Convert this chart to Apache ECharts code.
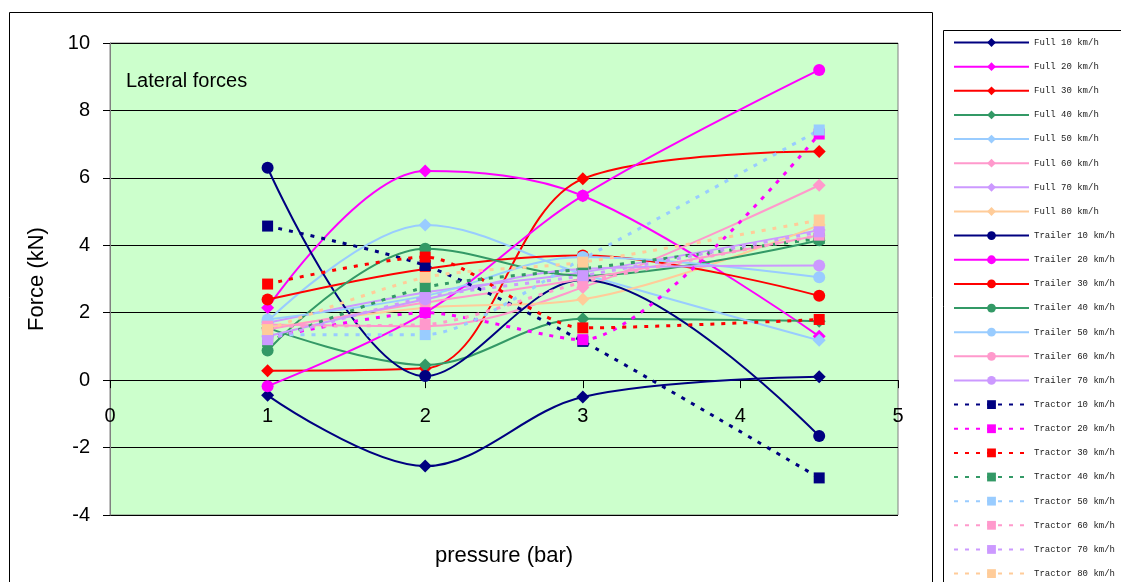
<!DOCTYPE html>
<html><head><meta charset="utf-8">
<script src="https://cdn.jsdelivr.net/npm/echarts@6/dist/echarts.min.js"></script>
<style>html,body{margin:0;padding:0;background:#fff}#c{width:1121px;height:582px}</style>
</head><body><div id="c"></div>
<script>
// x positions (pressure, bar)
const xValues = [1, 2, 3, 4.5];
const yTicks = [-4, -2, 0, 2, 4, 6, 8, 10];
const xTicks = [0, 1, 2, 3, 4, 5];

// Full
const full10 = [-0.45, -2.55, -0.5, 0.1];
const full20 = [2.15, 6.2, 5.47, 1.3];
const full30 = [0.28, 0.35, 5.97, 6.78];
const full40 = [1.55, 0.45, 1.82, 1.75];
const full50 = [1.75, 4.6, 3.15, 1.18];
const full60 = [1.65, 1.6, 2.75, 5.78];
const full70 = [1.7, 2.6, 3.2, 4.45];
const full80 = [1.55, 2.15, 2.4, 4.6];
// Trailer
const trailer10 = [6.3, 0.12, 2.97, -1.66];
const trailer20 = [-0.18, 2.0, 5.47, 9.2];
const trailer30 = [2.39, 3.3, 3.7, 2.5];
const trailer40 = [0.88, 3.9, 3.1, 4.15];
const trailer50 = [1.8, 2.5, 3.65, 3.05];
const trailer60 = [1.5, 2.3, 3.0, 4.3];
const trailer70 = [1.3, 2.4, 3.3, 3.4];
// Tractor
const tractor10 = [4.57, 3.4, 1.15, -2.9];
const tractor20 = [1.25, 2.0, 1.2, 7.3];
const tractor30 = [2.85, 3.65, 1.55, 1.8];
const tractor40 = [1.15, 2.75, 3.3, 4.2];
const tractor50 = [1.35, 1.35, 3.6, 7.42];
const tractor60 = [1.6, 1.65, 2.9, 4.3];
const tractor70 = [1.2, 2.45, 3.1, 4.4];
const tractor80 = [1.5, 3.05, 3.5, 4.75];

const C = {navy:'#000080', mag:'#FF00FF', red:'#FF0000', green:'#339966', lblue:'#99CCFF', pink:'#FF99CC', lav:'#CC99FF', peach:'#FFCC99'};

const seriesDefs = [
  ['Full 10 km/h', full10, C.navy, 'full'],
  ['Full 20 km/h', full20, C.mag, 'full'],
  ['Full 30 km/h', full30, C.red, 'full'],
  ['Full 40 km/h', full40, C.green, 'full'],
  ['Full 50 km/h', full50, C.lblue, 'full'],
  ['Full 60 km/h', full60, C.pink, 'full'],
  ['Full 70 km/h', full70, C.lav, 'full'],
  ['Full 80 km/h', full80, C.peach, 'full'],
  ['Trailer 10 km/h', trailer10, C.navy, 'trailer'],
  ['Trailer 20 km/h', trailer20, C.mag, 'trailer'],
  ['Trailer 30 km/h', trailer30, C.red, 'trailer'],
  ['Trailer 40 km/h', trailer40, C.green, 'trailer'],
  ['Trailer 50 km/h', trailer50, C.lblue, 'trailer'],
  ['Trailer 60 km/h', trailer60, C.pink, 'trailer'],
  ['Trailer 70 km/h', trailer70, C.lav, 'trailer'],
  ['Tractor 10 km/h', tractor10, C.navy, 'tractor'],
  ['Tractor 20 km/h', tractor20, C.mag, 'tractor'],
  ['Tractor 30 km/h', tractor30, C.red, 'tractor'],
  ['Tractor 40 km/h', tractor40, C.green, 'tractor'],
  ['Tractor 50 km/h', tractor50, C.lblue, 'tractor'],
  ['Tractor 60 km/h', tractor60, C.pink, 'tractor'],
  ['Tractor 70 km/h', tractor70, C.lav, 'tractor'],
  ['Tractor 80 km/h', tractor80, C.peach, 'tractor']
];

const series = seriesDefs.map(([name, vals, color, kind]) => ({
  name, type: 'line',
  data: xValues.map((x, i) => [x, vals[i]]),
  smooth: kind === 'tractor' ? 0.25 : 0.35,
  symbol: kind === 'full' ? 'diamond' : (kind === 'trailer' ? 'circle' : 'rect'),
  symbolSize: kind === 'full' ? 13 : (kind === 'trailer' ? 12 : 11),
  showSymbol: true,
  lineStyle: { color, width: kind === 'tractor' ? 3 : 2, type: kind === 'tractor' ? [4, 7] : 'solid' },
  itemStyle: { color, borderWidth: 0 },
  emphasis: { disabled: true }
}));

const chart = echarts.init(document.getElementById('c'), null, {renderer: 'canvas'});
chart.setOption({
  animation: false,
  backgroundColor: '#ffffff',
  textStyle: { fontFamily: 'Liberation Sans, Arial, sans-serif' },
  grid: { left: 110, right: 223, top: 43, bottom: 67, show: true, backgroundColor: '#CCFFCC', borderColor: '#808080', borderWidth: 1, containLabel: false, outerBoundsMode: 'none' },
  legend: {
    orient: 'vertical', left: 942, top: 30,
    padding: [8, 0, 0, 11],
    itemWidth: 75, itemHeight: 11, itemGap: 15.14,
    textStyle: { fontFamily: 'Liberation Mono, monospace', fontSize: 9, color: '#222' },
    data: seriesDefs.map(d => d[0])
  },
  xAxis: {
    type: 'value', min: xTicks[0], max: xTicks[xTicks.length - 1], interval: 1,
    name: 'pressure (bar)', nameLocation: 'middle', nameGap: 30,
    nameTextStyle: { fontSize: 22, color: '#000', fontFamily: 'Liberation Sans, Arial, sans-serif' },
    axisLine: { onZero: true, lineStyle: { color: '#000', width: 1 } },
    axisTick: { show: true, length: 8, lineStyle: { color: '#000' } },
    axisLabel: { margin: -109, fontSize: 20, color: '#000' },
    splitLine: { show: false }
  },
  yAxis: {
    type: 'value', min: yTicks[0], max: yTicks[yTicks.length - 1], interval: 2,
    name: 'Force (kN)', nameLocation: 'middle', nameGap: 62,
    nameTextStyle: { fontSize: 22, color: '#000', fontFamily: 'Liberation Sans, Arial, sans-serif' },
    axisLine: { show: true, onZero: false, lineStyle: { color: '#808080', width: 1 } },
    axisTick: { show: true, length: 7, lineStyle: { color: '#000' } },
    axisLabel: { margin: 20, fontSize: 20, color: '#000' },
    splitLine: { show: true, lineStyle: { color: '#000', width: 1 } }
  },
  graphic: [
    { type: 'rect', left: 7, top: 10, shape: { width: 923, height: 590 }, style: { fill: 'none', stroke: '#000', lineWidth: 1 }, silent: true, z: -10 },
    { type: 'rect', left: 941, top: 28, shape: { width: 200, height: 600 }, style: { fill: 'none', stroke: '#000', lineWidth: 1 }, silent: true, z: -10 },
    { type: 'text', left: 126, top: 71, style: { text: 'Lateral forces', font: '20px "Liberation Sans", Arial, sans-serif', fill: '#000' }, z: 100 }
  ],
  series
});
</script></body></html>
